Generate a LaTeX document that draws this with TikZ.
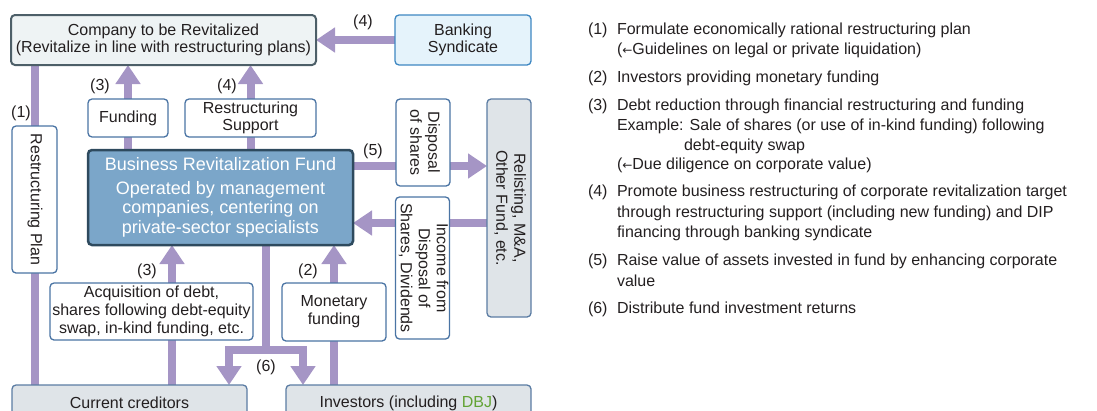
\documentclass[tikz,border=0pt]{standalone}
\usepackage{fontspec}
\setmainfont{Liberation Sans}
\newfontfamily\symfont{DejaVu Sans}
\usepackage{graphicx}
\usetikzlibrary{arrows.meta}
\definecolor{arrc}{HTML}{A595C5}
\definecolor{wdraw}{HTML}{4A74A4}
\definecolor{compfill}{HTML}{EEF3F4}
\definecolor{compdraw}{HTML}{4D5F68}
\definecolor{bankfill}{HTML}{E5F3FB}
\definecolor{bankdraw}{HTML}{3E87C2}
\definecolor{gfill}{HTML}{DFE4E8}
\definecolor{gdraw}{HTML}{5B7CA3}
\definecolor{fundfill}{HTML}{7BA6C9}
\definecolor{funddraw}{HTML}{2E4A5E}
\definecolor{dbj}{HTML}{62A334}
\definecolor{txt}{HTML}{231F20}
\newcommand{\vtext}[1]{\rotatebox[origin=c]{-90}{\begin{tabular}{@{}c@{}}#1\end{tabular}}}
\begin{document}
\begin{tikzpicture}[x=1pt,y=-1pt,
  base/.style={inner sep=0pt, outer sep=0pt, text=txt, font=\fontsize{16}{18}\selectfont},
  wbox/.style={base, draw=wdraw, fill=white, line width=1.3pt, rounded corners=4pt, align=center},
  gbox/.style={base, draw=gdraw, fill=gfill, line width=1.3pt, rounded corners=4pt, align=center},
  arr/.style={draw=arrc, line width=8pt, -{Triangle[width=24pt,length=19pt]}},
  bar/.style={draw=arrc, line width=8pt},
  lbl/.style={base},
  itemnum/.style={base, anchor=base west},
  itemtxt/.style={base, anchor=base west}
]
\path[use as bounding box] (0,0) rectangle (1097,410);
\clip (0,0) rectangle (1097,410);

% coordinates for connector positions
\coordinate (y5) at (0,166);
\coordinate (y6) at (0,223);
\coordinate (a3) at (172,0);
\coordinate (j6) at (266,350);
\coordinate (l6) at (229,350);
\coordinate (r6) at (303,350);

% box positions (invisible), connectors are drawn behind the visible boxes
\node[base, minimum width=305pt, minimum height=50pt] (comp) at (163.5,40) {};
\node[base, minimum width=136pt, minimum height=50pt] (bank) at (463,40) {};
\node[base, minimum width=45pt, minimum height=147pt] (plan) at (34.5,199.5) {};
\node[base, minimum width=80pt, minimum height=38pt] (fundg) at (128,118) {};
\node[base, minimum width=131pt, minimum height=38pt] (rsup) at (250.5,118) {};
\node[base, minimum width=265pt, minimum height=95pt] (fund) at (220.5,197.5) {};
\node[base, minimum width=54pt, minimum height=87pt] (disp) at (423,142.5) {};
\node[base, minimum width=44pt, minimum height=218pt] (relist) at (509,208) {};
\node[base, minimum width=53pt, minimum height=142pt] (income) at (422.5,268) {};
\node[base, minimum width=203pt, minimum height=57pt] (acq) at (151.5,311.5) {};
\node[base, minimum width=104pt, minimum height=58pt] (mon) at (334,312) {};
\node[base, minimum width=235pt, minimum height=36pt] (cred) at (129.5,403) {};
\node[base, minimum width=245pt, minimum height=36pt] (inv) at (408.5,403) {};

% connectors
\draw[arr] (bank.west) -- (comp.east);
\draw[bar] (plan.center |- comp.south) -- (plan.center |- cred.north);
\draw[arr] (fundg.center |- fund.north) -- (fundg.center |- comp.south);
\draw[arr] (rsup.center |- fund.north) -- (rsup.center |- comp.south);
\draw[arr] (fund.east |- y5) -- (relist.west |- y5);
\draw[arr] (relist.west |- y6) -- (fund.east |- y6);
\draw[arr] (a3 |- cred.north) -- (a3 |- fund.south);
\draw[arr] (mon.center |- inv.north) -- (mon.center |- fund.south);
\draw[bar] (j6 |- fund.south) -- (j6);
\draw[arr] (j6) -| (l6 |- cred.north);
\draw[arr] (j6) -| (r6 |- inv.north);

% visible boxes on top
\node[base, draw=compdraw, fill=compfill, line width=2pt, rounded corners=4pt, align=center,
  minimum width=305pt, minimum height=50pt, font=\fontsize{16}{17.5}\selectfont] (compv) at (comp.center)
  {Company to be Revitalized\\(Revitalize in line with restructuring plans)};
\node[base, draw=bankdraw, fill=bankfill, line width=1.3pt, rounded corners=4pt, align=center,
  minimum width=136pt, minimum height=50pt, font=\fontsize{16}{17.5}\selectfont] (bankv) at (bank.center)
  {Banking\\Syndicate};
\node[wbox, minimum width=45pt, minimum height=147pt] (planv) at (plan.center) {\vtext{Restructuring Plan}};
\node[wbox, minimum width=80pt, minimum height=38pt] (fundgv) at (fundg.center) {Funding};
\node[wbox, minimum width=131pt, minimum height=38pt, font=\fontsize{16}{17}\selectfont] (rsupv) at (rsup.center) {Restructuring\\Support};
\node[base, draw=funddraw, fill=fundfill, line width=2.5pt, rounded corners=4pt, align=center,
  minimum width=265pt, minimum height=95pt, text=white, font=\fontsize{18}{19.5}\selectfont] (fundv) at (fund.center)
  {Business Revitalization Fund\\[4pt]Operated by management\\companies, centering on\\private-sector specialists};
\node[wbox, minimum width=54pt, minimum height=87pt] (dispv) at (disp.center) {\vtext{Disposal\\of shares}};
\node[gbox, minimum width=44pt, minimum height=218pt] (relistv) at (relist.center) {\vtext{Relisting, M\&A,\\Other Fund, etc.}};
\node[wbox, minimum width=53pt, minimum height=142pt] (incomev) at (income.center) {\vtext{Income from\\Disposal of\\Shares, Dividends}};
\node[wbox, minimum width=203pt, minimum height=57pt] (acqv) at (acq.center) {Acquisition of debt,\\shares following debt-equity\\swap, in-kind funding, etc.};
\node[wbox, minimum width=104pt, minimum height=58pt] (monv) at (mon.center) {Monetary\\funding};
\node[gbox, minimum width=235pt, minimum height=36pt] (credv) at (cred.center) {Current creditors};
\node[gbox, minimum width=245pt, minimum height=36pt] (invv) at (inv.center) {Investors (including \textcolor{dbj}{DBJ})};

% connector labels
\node[lbl] (n4a) at (363,22) {(4)};
\node[lbl] (n1) at (21,113) {(1)};
\node[lbl] (n3a) at (100,86) {(3)};
\node[lbl] (n4b) at (227,86) {(4)};
\node[lbl] (n5) at (373,151) {(5)};
\node[lbl] (n3b) at (147,271) {(3)};
\node[lbl] (n2) at (308,271) {(2)};
\node[lbl] (n6) at (266,367) {(6)};

% explanatory list
\node[itemnum] (k1) at (588,34) {(1)};
\node[itemtxt] (t1a) at (617,34) {Formulate economically rational restructuring plan};
\node[itemtxt] (t1b) at (617,54) {({\symfont\fontsize{12}{12}\selectfont ←}Guidelines on legal or private liquidation)};
\node[itemnum] (k2) at (588,82) {(2)};
\node[itemtxt] (t2a) at (617,82) {Investors providing monetary funding};
\node[itemnum] (k3) at (588,110) {(3)};
\node[itemtxt] (t3a) at (617,110) {Debt reduction through financial restructuring and funding};
\node[itemtxt] (t3b) at (617,130) {Example: Sale of shares (or use of in-kind funding) following};
\node[itemtxt] (t3c) at (684,150) {debt-equity swap};
\node[itemtxt] (t3d) at (617,169) {({\symfont\fontsize{12}{12}\selectfont ←}Due diligence on corporate value)};
\node[itemnum] (k4) at (588,196) {(4)};
\node[itemtxt] (t4a) at (617,196) {Promote business restructuring of corporate revitalization target};
\node[itemtxt] (t4b) at (617,217) {through restructuring support (including new funding) and DIP};
\node[itemtxt] (t4c) at (617,237) {financing through banking syndicate};
\node[itemnum] (k5) at (588,265) {(5)};
\node[itemtxt] (t5a) at (617,265) {Raise value of assets invested in fund by enhancing corporate};
\node[itemtxt] (t5b) at (617,286) {value};
\node[itemnum] (k6) at (588,313) {(6)};
\node[itemtxt] (t6a) at (617,313) {Distribute fund investment returns};
\end{tikzpicture}
\end{document}
